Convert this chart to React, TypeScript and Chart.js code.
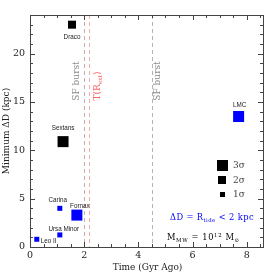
import React, { useEffect, useRef } from 'react';
import { Chart, registerables } from 'chart.js';

Chart.register(...registerables);

// ---- data ----
const galaxies = ['Draco', 'Sextans', 'LMC', 'Carina', 'Fornax', 'Ursa Minor', 'Leo II'];
const timeGyrAgo = [1.55, 1.22, 7.7, 1.1, 1.73, 1.1, 0.25];
const minDeltaD = [23.0, 10.9, 13.5, 4.0, 3.3, 1.25, 0.8];
const sigmaLevel = [2, 3, 3, 1, 3, 1, 1];
const galaxyColors = ['#000000', '#000000', '#0000ff', '#0000ff', '#0000ff', '#0000ff', '#0000ff'];
const xTicks = [0, 2, 4, 6, 8];
const yTicks = [0, 5, 10, 15, 20];
const sfBurstTimes = [2.0, 4.5];
const tRextTime = 2.17;
const legendSigmas = [3, 2, 1];

// ---- style ----
const SERIF = '"DejaVu Serif", serif';
const SANS = '"Liberation Sans", Arial, sans-serif';
const sideFor = (s: number) => (s === 3 ? 11 : s === 2 ? 8 : 5);
// label offsets (px) relative to marker centre: [dx, dy, align]
const labelOffsets: [number, number, CanvasTextAlign][] = [
  [0, 13, 'center'],
  [0, -13, 'center'],
  [1, -11, 'center'],
  [-2, -8, 'center'],
  [3, -9, 'center'],
  [4, -6, 'center'],
  [4, 2, 'left'],
];

type Part = [string, number]; // 0 normal, 1 sub, 2 sup

function richText(ctx: CanvasRenderingContext2D, parts: Part[], x: number, y: number, size: number, family: string, align: 'left' | 'center', spacing = 0) {
  const fontFor = (k: number) => `${k === 0 ? size : size * 0.65}px ${family}`;
  (ctx as any).letterSpacing = `${spacing}px`;
  let total = 0;
  for (const [t, k] of parts) {
    ctx.font = fontFor(k);
    total += ctx.measureText(t).width;
  }
  let cx = align === 'center' ? x - total / 2 : x;
  ctx.textAlign = 'left';
  ctx.textBaseline = 'alphabetic';
  for (const [t, k] of parts) {
    ctx.font = fontFor(k);
    const dy = k === 1 ? size * 0.25 : k === 2 ? -size * 0.4 : 0;
    ctx.fillText(t, cx, y + dy);
    cx += ctx.measureText(t).width;
  }
  (ctx as any).letterSpacing = '0px';
}

const annotPlugin = {
  id: 'annot',
  beforeDatasetsDraw(chart: any) {
    const { ctx, chartArea: a, scales } = chart;
    const x = scales.x;
    ctx.save();
    ctx.lineWidth = 1;
    ctx.setLineDash([4, 3]);
    ctx.strokeStyle = '#b4b4b4';
    for (const t of sfBurstTimes) {
      const px = Math.round(x.getPixelForValue(t)) + 0.5;
      ctx.beginPath();
      ctx.moveTo(px, a.top);
      ctx.lineTo(px, a.bottom);
      ctx.stroke();
    }
    ctx.strokeStyle = '#ffa8a8';
    const pr = Math.round(x.getPixelForValue(tRextTime)) + 0.5;
    ctx.beginPath();
    ctx.moveTo(pr, a.top);
    ctx.lineTo(pr, a.bottom);
    ctx.stroke();
    ctx.setLineDash([]);

    // rotated texts
    const rot = (parts: Part[], px: number, py: number, color: string) => {
      ctx.save();
      ctx.translate(px, py);
      ctx.rotate(-Math.PI / 2);
      ctx.fillStyle = color;
      richText(ctx, parts, 0, 3, 9, SERIF, 'center');
      ctx.restore();
    };
    rot([['SF burst', 0]], x.getPixelForValue(sfBurstTimes[0]) - 8, a.top + 66, '#8c8c8c');
    rot([['SF burst', 0]], x.getPixelForValue(sfBurstTimes[1]) + 5, a.top + 66, '#8c8c8c');
    rot([['T(R', 0], ['ext', 1], [')', 0]], x.getPixelForValue(tRextTime) + 8, a.top + 71, '#ff6060');
    ctx.restore();
  },
  afterDraw(chart: any) {
    const { ctx, chartArea: a, scales } = chart;
    const x = scales.x;
    const y = scales.y;
    ctx.save();
    // frame
    ctx.strokeStyle = '#444444';
    ctx.lineWidth = 1;
    ctx.strokeRect(Math.round(a.left) + 0.5, Math.round(a.top) + 0.5, Math.round(a.right - a.left), Math.round(a.bottom - a.top));
    // ticks
    ctx.beginPath();
    for (let v = 0; v <= x.max + 1e-6; v += 0.5) {
      const px = Math.round(x.getPixelForValue(v)) + 0.5;
      const len = Math.abs(v % 2) < 1e-6 ? 5 : 3;
      ctx.moveTo(px, a.bottom);
      ctx.lineTo(px, a.bottom - len);
      ctx.moveTo(px, a.top);
      ctx.lineTo(px, a.top + len);
    }
    for (let v = 0; v <= y.max + 1e-6; v += 1) {
      const py = Math.round(y.getPixelForValue(v)) + 0.5;
      const len = v % 5 === 0 ? 5 : 3;
      ctx.moveTo(a.left, py);
      ctx.lineTo(a.left + len, py);
      ctx.moveTo(a.right, py);
      ctx.lineTo(a.right - len, py);
    }
    ctx.stroke();

    // galaxy labels
    ctx.fillStyle = '#222222';
    ctx.font = `6.3px ${SANS}`;
    ctx.textBaseline = 'middle';
    galaxies.forEach((g, i) => {
      const px = x.getPixelForValue(timeGyrAgo[i]);
      const py = y.getPixelForValue(minDeltaD[i]);
      const [dx, dy, al] = labelOffsets[i];
      ctx.textAlign = al;
      ctx.fillText(g, px + dx, py + dy);
    });

    // legend
    legendSigmas.forEach((s, i) => {
      const cx = a.right - 41;
      const cy = a.bottom - 82 + i * 14.5;
      const sd = sideFor(s);
      ctx.fillStyle = '#000000';
      ctx.fillRect(Math.round(cx - sd / 2), Math.round(cy - sd / 2), sd, sd);
      ctx.fillStyle = '#444444';
      richText(ctx, [[`${s}σ`, 0]], cx + 11, cy + 3, 9, SERIF, 'left');
    });

    // annotations
    ctx.fillStyle = '#0000ff';
    richText(ctx, [['ΔD = R', 0], ['tide', 1], [' < 2 kpc', 0]], a.right - 93, a.bottom - 27, 8.3, SERIF, 'left', 0.4);
    ctx.fillStyle = '#000000';
    richText(ctx, [['M', 0], ['MW', 1], [' = 10', 0], ['12', 2], [' M', 0], ['⊙', 1]], a.right - 96, a.bottom - 7, 8.3, SERIF, 'left', 0.6);

    // axis titles
    ctx.fillStyle = '#222222';
    richText(ctx, [['Time (Gyr Ago)', 0]], (a.left + a.right) / 2 + 1, 270, 9, SERIF, 'center');
    ctx.save();
    ctx.translate(9, (a.top + a.bottom) / 2);
    ctx.rotate(-Math.PI / 2);
    richText(ctx, [['Minimum ΔD (kpc)', 0]], 0, 0, 9, SERIF, 'center');
    ctx.restore();
    ctx.restore();
  },
};

export default function App() {
  const ref = useRef<HTMLCanvasElement | null>(null);
  useEffect(() => {
    if (!ref.current) return;
    const chart = new Chart(ref.current, {
      type: 'scatter',
      data: {
        datasets: [
          {
            data: galaxies.map((_, i) => ({ x: timeGyrAgo[i], y: minDeltaD[i] })),
            pointStyle: 'rect',
            pointRadius: sigmaLevel.map((s) => sideFor(s) / Math.SQRT2),
            pointBackgroundColor: galaxyColors,
            pointBorderWidth: 0,
            borderWidth: 0,
          } as any,
        ],
      },
      options: {
        responsive: false,
        animation: false,
        events: [],
        layout: { padding: { left: 0, top: 15, right: 14, bottom: 0 } },
        plugins: { legend: { display: false }, tooltip: { enabled: false } },
        scales: {
          x: {
            type: 'linear',
            min: 0,
            max: 8.6,
            grid: { display: false, drawTicks: false },
            border: { display: false },
            afterBuildTicks: (s: any) => {
              s.ticks = xTicks.map((v) => ({ value: v }));
            },
            afterFit: (s: any) => {
              s.height = 30;
            },
            ticks: { padding: 3, color: '#222', font: { family: SERIF, size: 9.5 }, maxRotation: 0 },
          },
          y: {
            type: 'linear',
            min: 0,
            max: 24,
            grid: { display: false, drawTicks: false },
            border: { display: false },
            afterBuildTicks: (s: any) => {
              s.ticks = yTicks.map((v) => ({ value: v }));
            },
            afterFit: (s: any) => {
              s.width = 30;
            },
            ticks: { padding: 5, color: '#222', font: { family: SERIF, size: 9.5 } },
          },
        },
      },
      plugins: [annotPlugin],
    });
    return () => chart.destroy();
  }, []);
  return (
    <div style={{ position: 'absolute', left: 0, top: 0, width: 277, height: 277, background: '#fff' }}>
      <canvas ref={ref} width={277} height={277} style={{ display: 'block' }} />
    </div>
  );
}
